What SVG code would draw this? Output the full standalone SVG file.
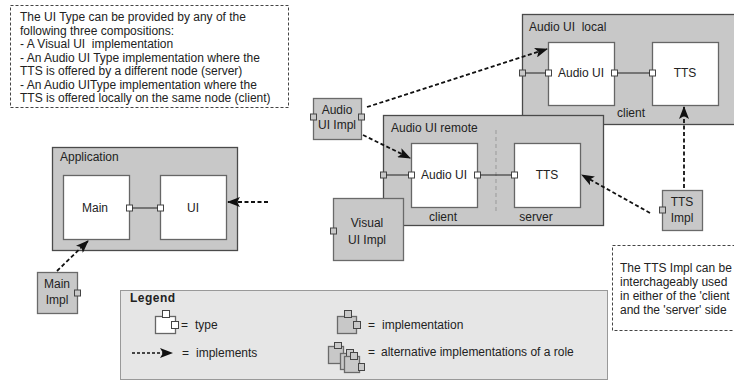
<svg xmlns="http://www.w3.org/2000/svg" width="734" height="382" viewBox="0 0 734 382">
<style>
text{font-family:"Liberation Sans",Arial,sans-serif;font-size:12px;fill:#222}
.note{fill:#fff;stroke:#444;stroke-width:1;stroke-dasharray:3,2}
.comp{fill:#c8c8c8;stroke:#4a4a4a;stroke-width:1.3}
.impl{fill:#c8c8c8;stroke:#6a6a6a;stroke-width:1.3}
.type{fill:#fff;stroke:#666;stroke-width:1.3}
.port{fill:#fff;stroke:#444;stroke-width:1}
.gport{fill:#c8c8c8;stroke:#444;stroke-width:1}
.wire{stroke:#222;stroke-width:1;fill:none}
.impls{stroke:#111;stroke-width:1.8;fill:none;stroke-dasharray:4,2.5;marker-end:url(#ah)}
.c{text-anchor:middle}
</style>
<defs>
<marker id="ah" markerUnits="userSpaceOnUse" markerWidth="13" markerHeight="10" refX="12" refY="5" orient="auto">
<path d="M0,0 L13,5 L0,10 L3,5 z" fill="#111"/>
</marker>
</defs>

<g id="note-ui-type">
<rect class="note" x="10.5" y="5.5" width="278" height="102"/>
<text x="20" y="21">The UI Type can be provided by any of the</text>
<text x="20" y="34.5">following three compositions:</text>
<text x="20" y="48" xml:space="preserve">- A Visual UI  implementation</text>
<text x="20" y="61.5">- An Audio UI Type implementation where the</text>
<text x="20" y="75">TTS is offered by a different node (server)</text>
<text x="20" y="88.5">- An Audio UIType implementation where the</text>
<text x="20" y="102">TTS is offered locally on the same node (client)</text>
</g>

<g id="application">
<rect class="comp" x="52.5" y="147.5" width="185" height="103"/>
<text x="60" y="161">Application</text>
<g id="main">
<rect class="type" x="63.5" y="175.5" width="66" height="64"/>
<text class="c" x="95" y="212">Main</text>
</g>
<g id="ui">
<rect class="type" x="160.5" y="175.5" width="66" height="64"/>
<text class="c" x="193" y="212">UI</text>
</g>
<rect class="port" x="126.5" y="205" width="6" height="6"/>
<rect class="port" x="157.5" y="205" width="6" height="6"/>
</g>

<g id="main-impl">
<rect class="impl" x="37.5" y="272.5" width="40" height="41"/>
<rect class="gport" x="74.5" y="290" width="6" height="6"/>
<text class="c" x="57" y="288">Main</text>
<text class="c" x="57" y="304">Impl</text>
</g>

<g id="audio-ui-local">
<rect class="comp" x="522.5" y="14.5" width="220" height="110"/>
<text x="529" y="31" xml:space="preserve">Audio UI  local</text>
<rect class="gport" x="519.5" y="70" width="6" height="6"/>
<g id="local-audio-ui">
<rect class="type" x="548.5" y="42.5" width="66" height="63"/>
<text x="558" y="77">Audio UI</text>
</g>
<g id="local-tts">
<rect class="type" x="652.5" y="42.5" width="66" height="63"/>
<text class="c" x="685" y="77">TTS</text>
</g>
<rect class="port" x="545.5" y="70" width="6" height="6"/>
<rect class="port" x="611.5" y="70" width="6" height="6"/>
<rect class="port" x="649.5" y="70" width="6" height="6"/>
<text x="617" y="117">client</text>
</g>

<g id="audio-ui-remote">
<rect class="comp" x="383.5" y="115.5" width="220" height="110"/>
<text x="391" y="132">Audio UI remote</text>
<line x1="496" y1="130" x2="496" y2="212" stroke="#999" stroke-width="1" stroke-dasharray="4,3"/>
<rect class="gport" x="380.5" y="172" width="6" height="6"/>
<g id="remote-audio-ui">
<rect class="type" x="411.5" y="143.5" width="66" height="64"/>
<text x="421" y="179">Audio UI</text>
</g>
<g id="remote-tts">
<rect class="type" x="514.5" y="143.5" width="66" height="64"/>
<text class="c" x="547" y="179">TTS</text>
</g>
<rect class="port" x="408.5" y="172" width="6" height="6"/>
<rect class="port" x="474.5" y="172" width="6" height="6"/>
<rect class="port" x="511.5" y="172" width="6" height="6"/>
<text class="c" x="443" y="221">client</text>
<text class="c" x="536" y="221">server</text>
</g>

<g id="visual-ui-impl">
<rect class="impl" x="333.5" y="198.5" width="70" height="62"/>
<rect class="gport" x="330.5" y="228" width="6" height="6"/>
<text class="c" x="367" y="227">Visual</text>
<text class="c" x="367" y="244">UI Impl</text>
</g>

<g id="audio-ui-impl">
<rect class="impl" x="313.5" y="98.5" width="48" height="41"/>
<rect class="gport" x="310.5" y="114" width="6" height="6"/>
<rect class="gport" x="358.5" y="114" width="6" height="6"/>
<text class="c" x="337" y="114">Audio</text>
<text class="c" x="337" y="129">UI Impl</text>
</g>

<g id="tts-impl">
<rect class="impl" x="662.5" y="190.5" width="40" height="40"/>
<rect class="gport" x="659.5" y="207" width="6" height="6"/>
<text class="c" x="682" y="206">TTS</text>
<text class="c" x="682" y="222">Impl</text>
</g>

<g id="note-tts-impl">
<rect class="note" x="612.5" y="245.5" width="130" height="85"/>
<text x="620" y="272">The TTS Impl can be</text>
<text x="620" y="286">interchageably used</text>
<text x="620" y="300">in either of the 'client</text>
<text x="620" y="314">and the 'server' side</text>
</g>

<g id="connectors">
<line class="wire" x1="132.5" y1="208" x2="157.5" y2="208"/>
<line class="wire" x1="525.5" y1="73" x2="545.5" y2="73"/>
<line class="wire" x1="617.5" y1="73" x2="649.5" y2="73"/>
<line class="wire" x1="386.5" y1="175" x2="408.5" y2="175"/>
<line class="wire" x1="480.5" y1="175" x2="511.5" y2="175"/>
<line class="impls" x1="268" y1="202" x2="228" y2="202"/>
<line class="impls" x1="57" y1="271" x2="88" y2="241"/>
<line class="impls" x1="367" y1="107" x2="547" y2="49"/>
<line class="impls" x1="363" y1="135" x2="410" y2="158"/>
<line class="impls" x1="684" y1="188" x2="684" y2="107"/>
<line class="impls" x1="650" y1="213" x2="582" y2="175"/>
</g>

<g id="legend">
<rect x="120.5" y="290.5" width="487" height="89" fill="#e6e6e6" stroke="#999" stroke-width="1"/>
<text x="130" y="302" font-weight="bold" letter-spacing="0.5">Legend</text>
<g id="legend-type">
<rect class="type" x="155.5" y="316.5" width="20" height="17" stroke="#333"/>
<rect class="port" x="162.5" y="310.5" width="7" height="7"/>
<rect class="port" x="171.5" y="321.5" width="7" height="7"/>
<text x="181" y="329">=</text>
<text x="195" y="329">type</text>
</g>
<g id="legend-implements">
<line x1="132" y1="353" x2="172" y2="353" stroke="#111" stroke-width="1.5" stroke-dasharray="3,2" marker-end="url(#ah)"/>
<text x="182" y="357">=</text>
<text x="196" y="357">implements</text>
</g>
<g id="legend-implementation">
<rect class="impl" x="337.5" y="316.5" width="19" height="17" stroke="#444"/>
<rect class="gport" x="344.5" y="310.5" width="7" height="7"/>
<rect class="gport" x="353.5" y="321.5" width="7" height="7"/>
<text x="368" y="329">=</text>
<text x="382" y="329">implementation</text>
</g>
<g id="legend-alternatives">
<rect class="impl" x="328.5" y="346.5" width="15" height="17" stroke="#444"/>
<rect class="gport" x="334.5" y="342.5" width="7" height="6"/>
<rect class="impl" x="340.5" y="353.5" width="15" height="16" stroke="#444"/>
<rect class="gport" x="346.5" y="349.5" width="7" height="7"/>
<rect class="impl" x="344.5" y="356.5" width="15" height="16" stroke="#444"/>
<rect class="gport" x="350.5" y="352.5" width="7" height="7"/>
<rect class="gport" x="358.5" y="363.5" width="6" height="7"/>
<text x="368" y="356">=</text>
<text x="381" y="356">alternative implementations of a role</text>
</g>
</g>
</svg>
